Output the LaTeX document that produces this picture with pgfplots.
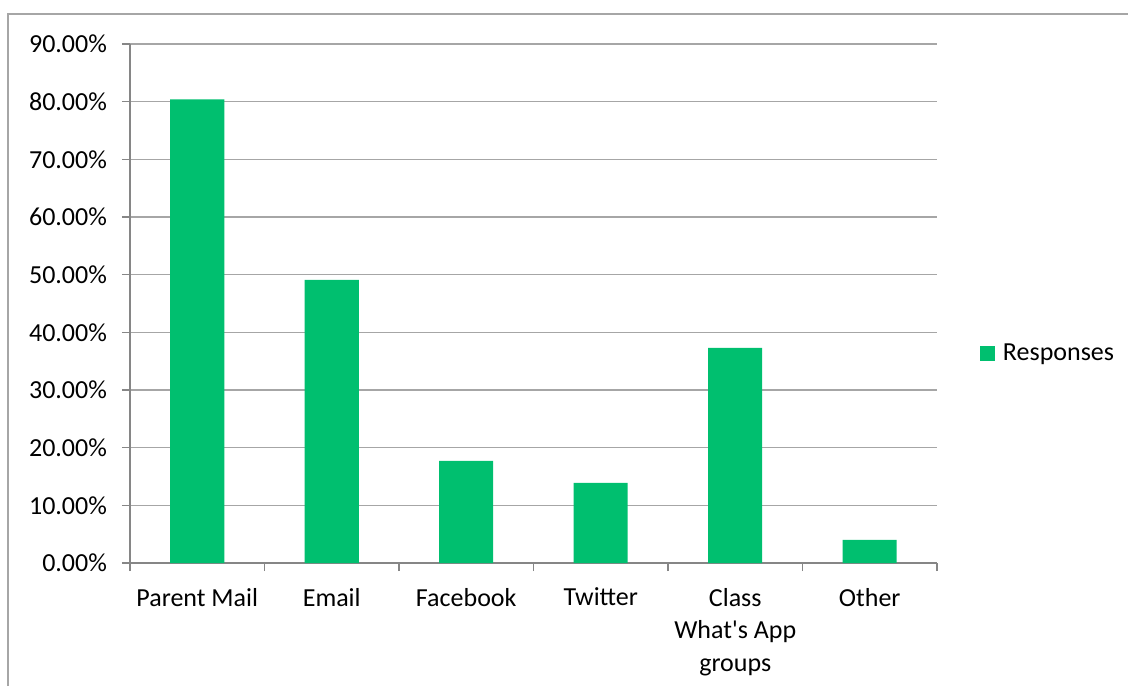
\documentclass[border=0pt]{standalone}
\usepackage{fontspec}
\setmainfont{Carlito}
\newfontfamily\plaincarlito{Carlito}
\usepackage{pgfplots}
\pgfplotsset{compat=1.18}

\definecolor{barg}{RGB}{0,191,111}
\definecolor{gridg}{RGB}{166,166,166}
\definecolor{axisg}{RGB}{134,134,134}

\begin{document}
\begin{tikzpicture}[x=1pt,y=1pt]
\useasboundingbox (0,0) rectangle (564,343);
\draw[gridg, line width=0.8pt] (4,0) -- (4,336) -- (564,336);
\begin{axis}[
    at={(65pt,61.5pt)}, anchor=south west,
    scale only axis,
    width=403.5pt, height=259.5pt,
    ybar, bar width=27pt,
    xmin=-0.5, xmax=5.5,
    ymin=0, ymax=90,
    ytick={0,10,...,90},
    yticklabel={\pgfmathprintnumber[fixed,fixed zerofill,precision=2]{\tick}\%},
    /pgf/number format/assume math mode=true,
    xtick={-0.5,0.5,...,5.5},
    x tick label as interval,
    xticklabels={Parent Mail, Email, Facebook, Twitter, {Class\\{\plaincarlito What's App}\\groups}, Other},
    xticklabel style={align=center, font=\fontsize{13}{16.3}\selectfont, yshift=-5pt},
    yticklabel style={font=\fontsize{13}{15}\selectfont, xshift=-4pt},
    major tick length=4pt,
    tick align=outside,
    tick style={axisg, line width=0.6pt},
    ymajorgrids, xmajorgrids=false,
    grid style={gridg, line width=0.6pt},
    axis x line*=bottom,
    axis y line*=left,
    axis line style={axisg, line width=0.6pt, -},
    legend style={at={(1.053,0.403)}, anchor=west, draw=none, fill=none,
        font=\fontsize{13}{15}\selectfont, inner xsep=0pt},
    legend image code/.code={\fill[barg] (0pt,-3.7pt) rectangle (7.4pt,3.7pt);},
    legend cell align=left,
]
\addplot[fill=barg, draw=none] coordinates {(0,80.4) (1,49.1) (2,17.7) (3,13.9) (4,37.3) (5,4.0)};
\legend{\hspace{2pt}Responses}
\end{axis}
\end{tikzpicture}
\end{document}
